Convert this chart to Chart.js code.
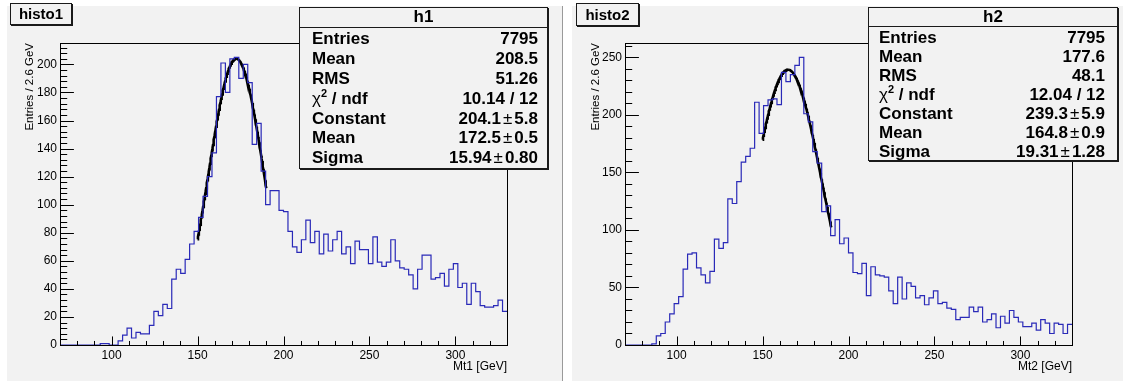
<!DOCTYPE html>
<html>
<head>
<meta charset="utf-8">
<title>Mt1 / Mt2</title>
<script src="https://cdn.jsdelivr.net/npm/chart.js@4.4.1/dist/chart.umd.min.js"></script>
<style>
  html, body { margin: 0; padding: 0; background: #fff; }
  body { position: relative; width: 1123px; height: 381px; overflow: hidden;
         font-family: "Liberation Sans", Arial, Helvetica, sans-serif; color: #000; }
  .pad { position: absolute; background: #f2f2f2; }
  .plot { position: absolute; top: 0; }
  .tbox, .stats { position: absolute; box-sizing: border-box; background: #f2f2f2;
                  border: 1px solid #1a1a1a; box-shadow: 1px 1px 0 #1a1a1a; font-weight: bold; }
  .tbox { font-size: 15px; text-align: center; }
  .stats { font-size: 17px; }
  .stats .head { text-align: center; border-bottom: 1px solid #1a1a1a; }
  .stats .row { display: flex; justify-content: space-between; white-space: nowrap; }
  .stats .pm { font-weight: normal; margin: 0 2px; }
  .stats .chi { font-weight: normal; }
  .stats sup { font-size: 11px; line-height: 0; }
</style>
</head>
<body>
<div class="pad" style="left:7px;top:6px;width:555px;height:375px;border-right:1px solid #9a9a9a"></div>
<div class="pad" style="left:572px;top:6px;width:551px;height:375px"></div>
<canvas id="c1" class="plot" width="562" height="381" style="left:0"></canvas>
<canvas id="c2" class="plot" width="561" height="381" style="left:562px"></canvas>
<div class="tbox" style="left:10px;top:3px;width:62px;height:22px;line-height:20px">histo1</div>
<div class="tbox" style="left:576px;top:3px;width:63px;height:23px;line-height:21px">histo2</div>
<div id="s1" class="stats" style="left:299px;top:7px;width:249px;height:162px"></div>
<div id="s2" class="stats" style="left:868px;top:7px;width:250px;height:154px"></div>

<script>
// binning shared by both histograms: 100 bins of 2.6 GeV
const binLow = 70;
const binHigh = 330;
const binWidth = 2.6;

// bin contents, Mt1
const counts1 = [
  0, 0, 0, 0, 0, 0, 0, 0, 0, 1,
  1, 0, 0, 3, 7, 12, 5, 9, 8, 8,
  14, 24, 21, 29, 26, 47, 54, 51, 61, 72,
  81, 91, 106, 120, 137, 177, 201, 180, 204, 205,
  190, 200, 187, 143, 158, 124, 100, 110, 110, 96,
  95, 81, 70, 66, 75, 89, 73, 81, 65, 79,
  67, 75, 81, 65, 70, 58, 74, 68, 68, 58,
  77, 59, 56, 59, 75, 60, 55, 54, 50, 40,
  54, 64, 64, 47, 48, 51, 42, 54, 58, 41,
  44, 29, 44, 38, 28, 27, 27, 28, 32, 24
];

// bin contents, Mt2
const counts2 = [
  0, 0, 0, 0, 0, 0, 1, 8, 10, 20,
  27, 36, 42, 66, 79, 80, 67, 61, 54, 64,
  92, 84, 89, 127, 123, 142, 159, 164, 171, 211,
  184, 208, 213, 214, 209, 237, 229, 235, 243, 250,
  201, 194, 168, 158, 116, 121, 95, 109, 88, 93,
  80, 63, 62, 71, 43, 68, 61, 60, 59, 47,
  36, 59, 40, 54, 51, 41, 43, 35, 41, 47,
  36, 37, 32, 31, 22, 24, 24, 33, 29, 33,
  20, 22, 27, 15, 25, 19, 30, 24, 20, 16,
  16, 19, 13, 22, 19, 10, 19, 18, 10, 18
];

// stat box contents
const stats1 = ['7795', '208.5', '51.26'];   // Entries, Mean, RMS
const stats2 = ['7795', '177.6', '48.1'];
const chi2ndf1 = ['10.14', '12'];
const chi2ndf2 = ['12.04', '12'];
const fitPar1 = [204.1, 172.5, 15.94];      // gaus: Constant, Mean, Sigma
const fitErr1 = ['5.8', '0.5', '0.80'];
const fitPar2 = [239.3, 164.8, 19.31];
const fitErr2 = ['5.9', '0.9', '1.28'];
const fitRange = [150, 190];

// axis labels
const xTicks = [100, 150, 200, 250, 300];
const yTicks1 = [0, 20, 40, 60, 80, 100, 120, 140, 160, 180, 200];
const yTicks2 = [0, 50, 100, 150, 200, 250];
const yMax1 = 215.25;
const yMax2 = 262.5;

const FONT = '"Liberation Sans", Arial, Helvetica, sans-serif';

function fillStats(id, name, st, chi, par, err, headH, rowH, gap, padL, padR) {
  const pm = v => `<span class="pm">±</span>`;
  const rows = [
    ['Entries', st[0]],
    ['Mean', st[1]],
    ['RMS', st[2]],
    ['<span class="chi">χ</span><sup>2</sup> / ndf', chi[0] + ' / ' + chi[1]],
    ['Constant', par[0] + pm() + err[0]],
    ['Mean', par[1] + pm() + err[1]],
    ['Sigma', par[2] + pm() + err[2]]
  ];
  let html = `<div class="head" style="height:${headH}px;line-height:${headH}px">${name}</div>`;
  html += `<div style="padding:${gap}px ${padR}px 0 ${padL}px">`;
  rows.forEach(r => {
    html += `<div class="row" style="height:${rowH}px;line-height:${rowH}px"><span>${r[0]}</span><span>${r[1]}</span></div>`;
  });
  html += '</div>';
  document.getElementById(id).innerHTML = html;
}

// frame and inward ticks, ROOT style
const rootFrame = {
  id: 'rootFrame',
  afterDatasetsDraw(chart, args, opts) {
    const {ctx, chartArea: a, scales: {x, y}} = chart;
    const L = Math.round(a.left) + 0.5, R = Math.round(a.right) + 0.5;
    const T = Math.round(a.top) + 0.5, B = Math.round(a.bottom) + 0.5;
    const xLen = (a.bottom - a.top) * 0.03;
    const yLen = (a.right - a.left) * 0.03;
    ctx.save();
    ctx.strokeStyle = '#000';
    ctx.lineWidth = 1;
    ctx.beginPath();
    for (let v = binLow + 10; v < binHigh; v += 10) {
      const px = Math.round(x.getPixelForValue(v)) + 0.5;
      const len = xTicks.includes(v) ? xLen : xLen / 2;
      ctx.moveTo(px, B);
      ctx.lineTo(px, B - len);
    }
    for (let v = 0; v <= y.max; v += opts.minor) {
      const py = Math.round(y.getPixelForValue(v)) + 0.5;
      const len = opts.major.includes(v) ? yLen : yLen / 2;
      ctx.moveTo(L, py);
      ctx.lineTo(L + len, py);
    }
    ctx.stroke();
    ctx.strokeRect(L, T, R - L, B - T);
    ctx.restore();
  }
};

function drawHisto(id, counts, par, yMax, yTicks, yMinor, xTitle, g) {
  // left bin edges, plus the upper edge of the last bin
  const hist = counts.map((c, i) => ({x: binLow + i * binWidth, y: c}));
  hist.push({x: binHigh, y: counts[counts.length - 1]});

  // fitted gaussian over the fit range
  const fit = [];
  for (let m = fitRange[0]; m <= fitRange[1] + 1e-9; m += 0.25) {
    fit.push({x: m, y: par[0] * Math.exp(-0.5 * Math.pow((m - par[1]) / par[2], 2))});
  }

  const canvas = document.getElementById(id);
  const W = canvas.width, H = canvas.height;

  return new Chart(canvas, {
    type: 'line',
    data: {
      datasets: [
        {data: hist, stepped: 'before', borderColor: '#2a2ab8', borderWidth: 1.2,
         pointRadius: 0, fill: false},
        {data: fit, borderColor: '#000', borderWidth: 2.6, pointRadius: 0,
         tension: 0, fill: false}
      ]
    },
    options: {
      responsive: false,
      animation: false,
      events: [],
      layout: {padding: {left: 0, top: g.top, right: W - g.right, bottom: 0}},
      plugins: {
        legend: {display: false},
        tooltip: {enabled: false},
        rootFrame: {major: yTicks, minor: yMinor}
      },
      scales: {
        x: {
          type: 'linear', min: binLow, max: binHigh,
          afterBuildTicks: s => { s.ticks = xTicks.map(v => ({value: v})); },
          afterFit: s => { s.height = H - g.bottom; },
          grid: {display: false, drawTicks: false},
          border: {display: false},
          ticks: {padding: 3, color: '#000', maxRotation: 0, autoSkip: false,
                  font: {family: FONT, size: 12}},
          title: {display: true, text: xTitle, align: 'end', color: '#000',
                  padding: {top: 0, bottom: 7}, font: {family: FONT, size: 12}}
        },
        y: {
          type: 'linear', min: 0, max: yMax,
          afterBuildTicks: s => { s.ticks = yTicks.map(v => ({value: v})); },
          afterFit: s => { s.width = g.left; },
          grid: {display: false, drawTicks: false},
          border: {display: false},
          ticks: {padding: 3, color: '#000', font: {family: FONT, size: 12}},
          title: {display: true, text: 'Entries / 2.6 GeV', align: 'end', color: '#000',
                  padding: {top: g.titleX - 6.9, bottom: 0}, font: {family: FONT, size: 11.5}}
        }
      }
    },
    plugins: [rootFrame]
  });
}

fillStats('s1', 'h1', stats1, chi2ndf1, fitPar1, fitErr1, 18.7, 19.8, 1.7, 12, 9);
fillStats('s2', 'h2', stats2, chi2ndf2, fitPar2, fitErr2, 18, 19, 1.2, 10, 12);

drawHisto('c1', counts1, fitPar1, yMax1, yTicks1, 4, 'Mt1 [GeV]',
          {left: 60, top: 43, right: 507, bottom: 345, titleX: 29.7});
drawHisto('c2', counts2, fitPar2, yMax2, yTicks2, 10, 'Mt2 [GeV]',
          {left: 63, top: 43, right: 510, bottom: 345, titleX: 34});
</script>
</body>
</html>
